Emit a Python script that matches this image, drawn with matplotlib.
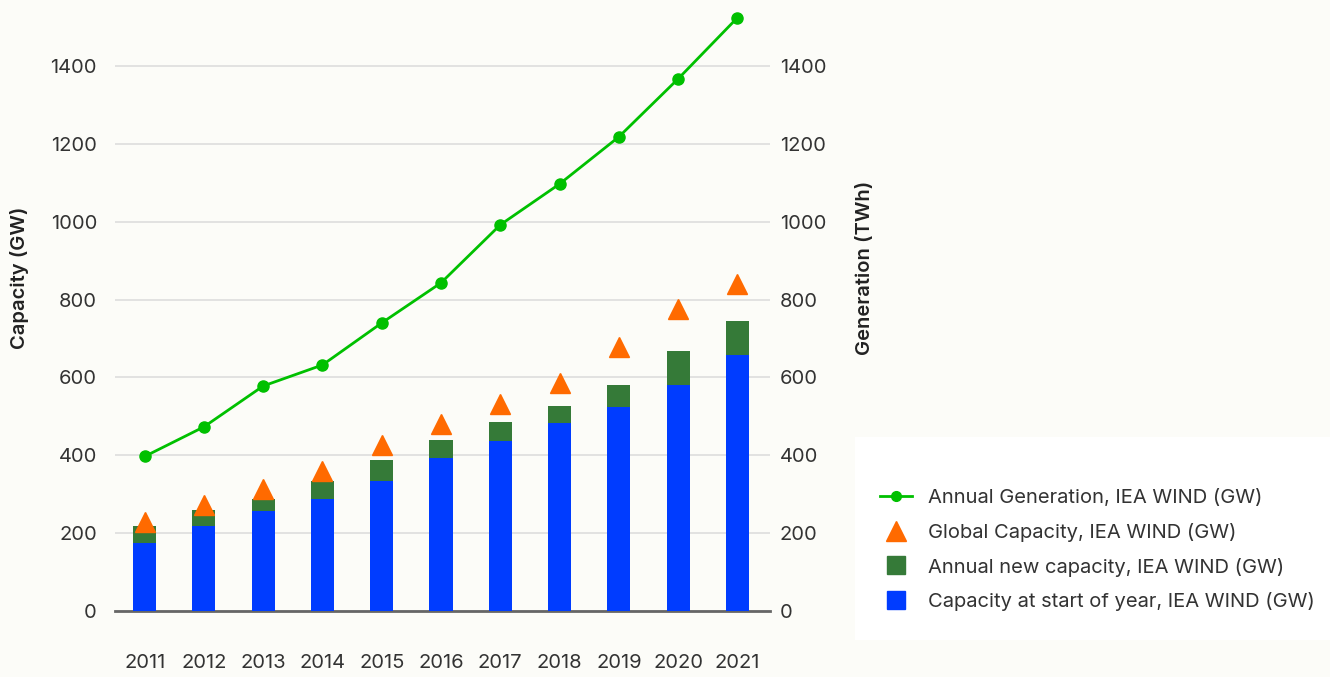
import numpy as np
import matplotlib.pyplot as plt
from matplotlib.lines import Line2D
from matplotlib.patches import Rectangle

import matplotlib
matplotlib.rcParams.update({'font.size': 14, 'font.family': ['Inter', 'DejaVu Sans']})

#Data
years = ['2011', '2012', '2013', '2014', '2015', '2016', '2017', '2018', '2019', '2020', '2021']
start_cap = [175, 218, 257, 288, 334, 393, 437, 483, 524, 581, 658]
new_cap = [43, 41, 31, 46, 54, 46, 49, 44, 57, 87, 87]
global_cap = [229, 272, 313, 360, 426, 481, 532, 586, 678, 776, 840]
generation = [397, 473, 578, 632, 740, 843, 992, 1097, 1218, 1367, 1524]

bg = '#fcfcf8'
x = np.arange(len(years))

fig = plt.figure(figsize=(13.3, 6.77), dpi=100, facecolor=bg)
ax = fig.add_axes([115/1330, 66/677, 655/1330, 611/677])
ax.set_facecolor(bg)

ax.bar(x, start_cap, width=0.39, color='#003cff', zorder=3)
ax.bar(x, new_cap, width=0.39, bottom=start_cap, color='#357a38', zorder=3)
ax.plot(x, global_cap, linestyle='none', marker='^', markersize=15, color='#ff6a00', zorder=4)

ax2 = ax.twinx()
ax2.plot(x, generation, color='#00c000', lw=2, marker='o', markersize=8, zorder=5)

ymax = 611/0.38929
for a in (ax, ax2):
    a.set_ylim(0, ymax)
    a.set_yticks(range(0, 1401, 200))
    for s in a.spines.values():
        s.set_visible(False)
    a.tick_params(length=0, colors='#333333', labelsize=14.5)
ax.set_xlim(-0.5, 10.55)
ax.spines['bottom'].set_visible(True)
ax.spines['bottom'].set_color('#666666')
ax.spines['bottom'].set_linewidth(2)
ax.set_xticks(x)
ax.set_xticklabels(years)
ax.tick_params(axis='x', pad=31)
ax.tick_params(axis='y', pad=13)
ax2.tick_params(axis='y', pad=7)
ax.grid(axis='y', color='#dddddd', lw=1.2, zorder=0)
ax.set_axisbelow(True)

fig.text(20/1330, 1-278/677, 'Capacity (GW)', rotation=90, ha='center', va='center',
         fontsize=14.5, fontweight='semibold', color='#222222')
fig.text(865/1330, 1-268/677, 'Generation (TWh)', rotation=90, ha='center', va='center',
         fontsize=14.5, fontweight='semibold', color='#222222')

#Legend box
fig.patches.append(Rectangle((855/1330, 1-640/677), 475/1330, 203/677, transform=fig.transFigure,
                             facecolor='white', edgecolor='none', zorder=0))
handles = [Line2D([], [], color='#00c000', lw=2, marker='o', markersize=7),
           Line2D([], [], linestyle='none', marker='^', markersize=15, color='#ff6a00'),
           Line2D([], [], linestyle='none', marker='s', markersize=13, color='#357a38'),
           Line2D([], [], linestyle='none', marker='s', markersize=13, color='#003cff')]
labels = ['Annual Generation, IEA WIND (GW)', 'Global Capacity, IEA WIND (GW)',
          'Annual new capacity, IEA WIND (GW)', 'Capacity at start of year, IEA WIND (GW)']
leg = fig.legend(handles, labels, loc='center left', bbox_to_anchor=(880/1330, 1-550/677),
                 frameon=False, fontsize=14.5, labelspacing=0.79, handlelength=1.6,
                 handletextpad=0.8, borderpad=0, borderaxespad=0)
for t in leg.get_texts():
    t.set_color('#333333')

plt.savefig('out.png', dpi=100, facecolor=bg)
